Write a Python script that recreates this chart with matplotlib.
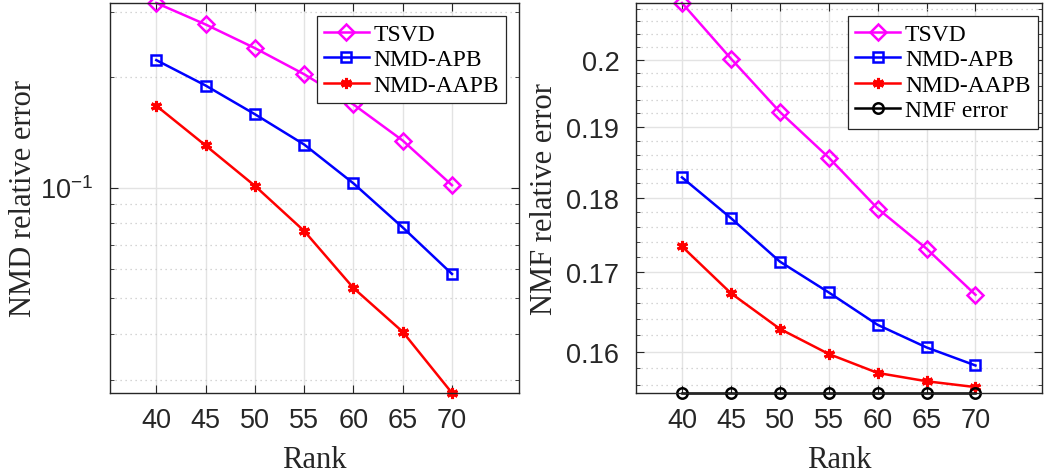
import numpy as np
import matplotlib
matplotlib.use("Agg")
import matplotlib.pyplot as plt
from matplotlib.ticker import FixedLocator, FixedFormatter, NullFormatter

# data
rank = [40, 45, 50, 55, 60, 65, 70]

nmd_tsvd = [0.318, 0.278, 0.2397, 0.2035, 0.1684, 0.1343, 0.1015]
nmd_apb = [0.2223, 0.1896, 0.1584, 0.131, 0.1027, 0.0779, 0.0582]
nmd_aapb = [0.167, 0.1302, 0.1011, 0.0762, 0.0533, 0.0405, 0.0276]

nmf_tsvd = [0.2089, 0.2002, 0.1922, 0.1856, 0.1785, 0.1731, 0.1671]
nmf_apb = [0.1828, 0.1772, 0.1714, 0.1674, 0.1633, 0.1605, 0.1583]
nmf_aapb = [0.1734, 0.1673, 0.1628, 0.1597, 0.1574, 0.1564, 0.1557]
nmf_err = [0.1550] * 7

right_yticks = [0.16, 0.17, 0.18, 0.19, 0.2]
right_yticklabels = ["0.16", "0.17", "0.18", "0.19", "0.2"]

W, H = 1044, 477
fig = plt.figure(figsize=(W / 100, H / 100), dpi=100)

tick_col = "#262626"
serif = ["Liberation Serif", "DejaVu Serif"]
sans = ["Liberation Sans", "DejaVu Sans"]

styles = [
    dict(color="#FF00FF", marker="D", ms=8, mfc="none", mew=1.8, label="TSVD"),
    dict(color="#0000FF", marker="s", ms=6.8, mfc="none", mew=1.8, label="NMD-APB"),
    dict(color="#FF0000", marker=(6, 2, 0), ms=8, mew=2.2, label="NMD-AAPB"),
    dict(color="black", marker="o", ms=7.5, mfc="none", mew=1.8, label="NMF error"),
]


def style_axes(ax):
    ax.set_xlim(35.3, 76.8)
    ax.set_xticks(rank)
    ax.tick_params(which="both", direction="in", top=True, right=True,
                   colors=tick_col, labelsize=19.5)
    ax.tick_params(which="major", length=6, width=0.8)
    ax.tick_params(which="minor", length=3, width=0.6)
    ax.tick_params(axis="x", pad=10)
    ax.tick_params(axis="y", pad=12)
    for lab in ax.get_xticklabels() + ax.get_yticklabels():
        lab.set_fontfamily(sans)
    for s in ax.spines.values():
        s.set_color(tick_col)
        s.set_linewidth(1.0)
    ax.grid(True, which="major", color="#e3e3e3", lw=1.0, ls="-")
    ax.grid(True, which="minor", axis="y", color="#c8c8c8", lw=0.9, ls=(0, (1, 3)))
    ax.set_axisbelow(True)
    ax.set_xlabel("Rank", fontsize=22, family=serif, color=tick_col, labelpad=9)


def add_legend(ax, anchor):
    leg = ax.legend(loc="upper right", bbox_to_anchor=anchor, borderaxespad=0,
                    prop=dict(family=serif, size=17), fancybox=False, framealpha=1,
                    edgecolor=tick_col, handlelength=1.9, labelspacing=0.17,
                    handletextpad=0.2, borderpad=0.3)
    leg.get_frame().set_linewidth(0.9)


# left: NMD relative error
ax1 = fig.add_axes([110 / W, 83 / H, 409 / W, 390 / H])
ax1.set_yscale("log")
for y, st in zip([nmd_tsvd, nmd_apb, nmd_aapb], styles[:3]):
    ax1.plot(rank, y, lw=1.8, clip_on=False, **st)
ax1.set_ylim(min(nmd_aapb), max(nmd_tsvd))
ax1.yaxis.set_major_locator(FixedLocator([0.1]))
ax1.yaxis.set_major_formatter(FixedFormatter([r"$\mathregular{10^{-1}}$"]))
ax1.yaxis.set_minor_locator(FixedLocator([0.03, 0.04, 0.05, 0.06, 0.07, 0.08, 0.09, 0.2, 0.3]))
ax1.yaxis.set_minor_formatter(NullFormatter())
style_axes(ax1)
ax1.set_ylabel("NMD relative error", fontsize=22, family=serif, color=tick_col)
ax1.yaxis.set_label_coords(-0.176, 0.5)
add_legend(ax1, (0.968, 0.966))

# right: NMF relative error
ax2 = fig.add_axes([636 / W, 83 / H, 406 / W, 390 / H])
ax2.set_yscale("log")
for y, st in zip([nmf_tsvd, nmf_apb, nmf_aapb, nmf_err], styles):
    ax2.plot(rank, y, lw=1.8, clip_on=False, **st)
ax2.set_ylim(nmf_err[0], max(nmf_tsvd))
ax2.yaxis.set_major_locator(FixedLocator(right_yticks))
ax2.yaxis.set_major_formatter(FixedFormatter(right_yticklabels))
minor = [v for v in np.round(np.arange(0.156, 0.2095, 0.002), 3)
         if not np.isclose(v, right_yticks).any()]
ax2.yaxis.set_minor_locator(FixedLocator(minor))
ax2.yaxis.set_minor_formatter(NullFormatter())
style_axes(ax2)
ax2.set_ylabel("NMF relative error", fontsize=22, family=serif, color=tick_col)
ax2.yaxis.set_label_coords(-0.19, 0.5)
add_legend(ax2, (0.989, 0.966))

fig.savefig("out.png", dpi=100)
